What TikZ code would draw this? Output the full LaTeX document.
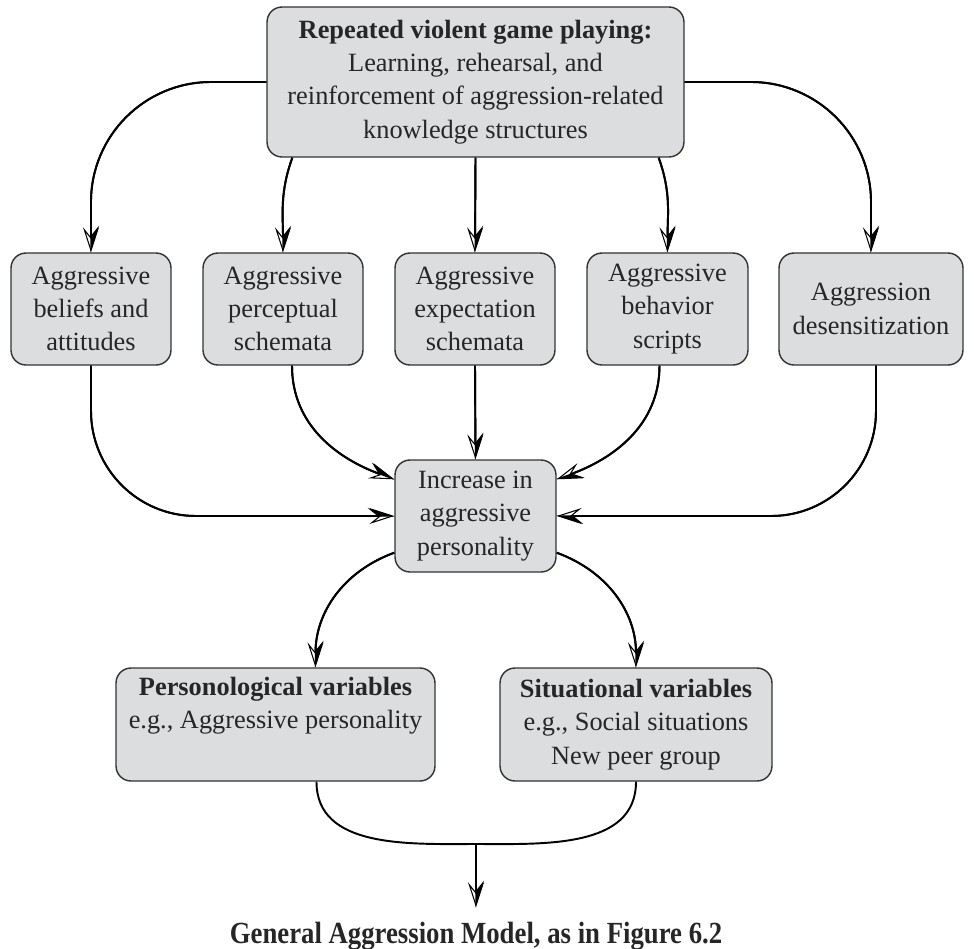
\documentclass[tikz,border=0pt]{standalone}
\usepackage{fontspec}
\setmainfont{Liberation Serif}
\newfontfamily\capfont[FakeStretch=0.87]{Liberation Serif}
\usepackage{tikz}
\usetikzlibrary{arrows.meta}
\definecolor{boxgray}{HTML}{DCDDDF}

\begin{document}
\begin{tikzpicture}[x=0.02cm,y=0.02cm,
  box/.style={draw=black!80, fill=boxgray, line width=0.8pt, rounded corners=0.3cm,
    align=center, text=black!85, inner sep=0pt, font=\fontsize{15}{19}\selectfont},
  flow/.style={line width=1.1pt,
    -{Stealth[length=0.5cm,width=0.32cm,inset=0.2cm,open,fill=white,line width=0.6pt]},
    postaction={draw,-{Stealth[harpoon,length=0.5cm,width=0.32cm,inset=0.2cm,line width=0.6pt]}}},
  link/.style={line width=1.1pt}]
\useasboundingbox (0,0) rectangle (974,-948);

\node[box, minimum width=8.34cm, minimum height=3cm] (game) at (475.5,-82)
  {\textbf{Repeated violent game playing:}\\ Learning, rehearsal, and\\
   reinforcement of aggression-related\\ knowledge structures};

\node[box, minimum width=3.2cm, minimum height=2.24cm] (belief) at (91,-309) {Aggressive\\ beliefs and\\ attitudes};
\node[box, minimum width=3.2cm, minimum height=2.24cm] (percep) at (283,-309) {Aggressive\\ perceptual\\ schemata};
\node[box, minimum width=3.2cm, minimum height=2.24cm] (expect) at (475,-309) {Aggressive\\ expectation\\ schemata};
\node[box, minimum width=3.22cm, minimum height=2.24cm] (script) at (667.5,-309) {Aggressive\\ behavior\\ scripts};
\node[box, minimum width=3.68cm, minimum height=2.24cm] (desens) at (871,-309) {Aggression\\ desensitization};

\node[box, minimum width=3.22cm, minimum height=2.24cm] (incr) at (475.5,-516) {Increase in\\ aggressive\\ personality};

\node[box, minimum width=6.38cm, minimum height=2.26cm] (person) at (275.5,-724.5)
  {\textbf{Personological variables}\\ e.g., Aggressive personality\\ \strut};
\node[box, minimum width=5.44cm, minimum height=2.26cm] (situ) at (636,-724.5)
  {\textbf{Situational variables}\\ e.g., Social situations\\ New peer group};

\node[anchor=base, inner xsep=0pt, inner ysep=8pt, text=black!85,
  font=\capfont\bfseries\fontsize{17.5}{20}\selectfont] (caption) at (476,-943)
  {General Aggression Model, as in Figure 6.2};

% top box to the five structures
\draw[flow, rounded corners=2.4cm] (game.west) -| (belief.north);
\draw[flow] ([shift={(26,0)}]game.south west) to[out=-110,in=90] (percep.north);
\draw[flow] (game.south) -- (expect.north);
\draw[flow] ([shift={(-26,0)}]game.south east) to[out=-70,in=90] (script.north);
\draw[flow, rounded corners=2.4cm] (game.east) -| (desens.north);

% structures to personality
\draw[flow, rounded corners=2.1cm] (belief.south) |- (incr.west);
\draw[flow] ([shift={(9,0)}]percep.south) to[out=-90,in=160] ([shift={(0,-20)}]incr.north west);
\draw[flow] (expect.south) -- (incr.north);
\draw[flow] ([shift={(-8,0)}]script.south) to[out=-90,in=20] ([shift={(0,-20)}]incr.north east);
\draw[flow, rounded corners=2.1cm] ([shift={(5,0)}]desens.south) |- (incr.east);

% personality to the variables
\draw[flow] ([shift={(0,20)}]incr.south west) to[out=200,in=90] ([shift={(40,0)}]person.north);
\draw[flow] ([shift={(0,20)}]incr.south east) to[out=-20,in=90] (situ.north);

\coordinate (join) at (476,-844);
\draw[link] ([shift={(41,0)}]person.south) to[out=-90,in=180] (join);
\draw[link] (situ.south) to[out=-90,in=0] (join);
\draw[flow] (join) -- (caption.north);
\end{tikzpicture}
\end{document}
